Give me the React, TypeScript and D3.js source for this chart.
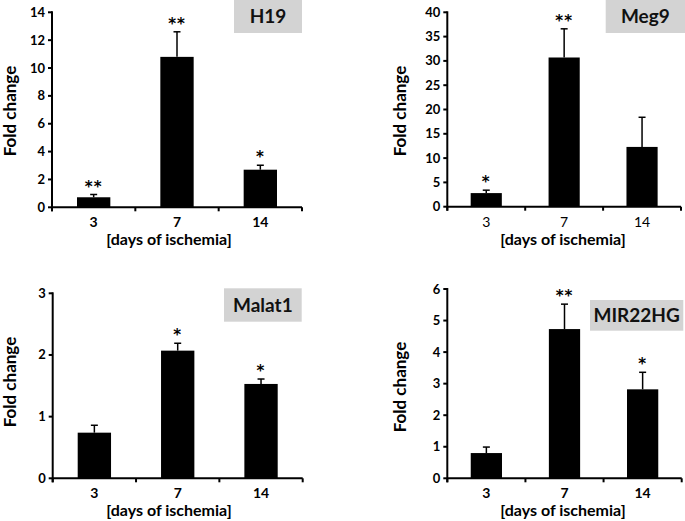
import React from "react";
import * as d3 from "d3";

// ---------- data ----------
const categories = ["3", "7", "14"];
const panelNames = ["H19", "Meg9", "Malat1", "MIR22HG"];
const yMaxes = [14, 40, 3, 6];
const yTickSteps = [2, 5, 1, 1];
const h19Values = [0.72, 10.8, 2.7];
const h19Errors = [0.2, 1.8, 0.32];
const h19Stars = ["**", "**", "*"];
const meg9Values = [2.8, 30.7, 12.3];
const meg9Errors = [0.6, 5.9, 6.1];
const meg9Stars = ["*", "**", ""];
const malat1Values = [0.74, 2.07, 1.53];
const malat1Errors = [0.12, 0.12, 0.08];
const malat1Stars = ["", "*", "*"];
const mir22hgValues = [0.8, 4.73, 2.82];
const mir22hgErrors = [0.19, 0.79, 0.54];
const mir22hgStars = ["", "**", "*"];
const yTitle = "Fold change";
const xTitle = "[days of ischemia]";

const valuesList = [h19Values, meg9Values, malat1Values, mir22hgValues];
const errorsList = [h19Errors, meg9Errors, malat1Errors, mir22hgErrors];
const starsList = [h19Stars, meg9Stars, malat1Stars, mir22hgStars];

// ---------- layout ----------
const layouts = [
  { x0: 52, x1: 302, yBottom: 207.3, yTop: 12.3, yTitleX: 10, yTitleY: 111, xTitleX: 169, box: [234, 0, 68, 33], xBold: true },
  { x0: 447.3, x1: 681, yBottom: 206.7, yTop: 12.3, yTitleX: 400, yTitleY: 111, xTitleX: 563, box: [605.7, 0, 79.3, 33], xBold: false },
  { x0: 52.7, x1: 302.7, yBottom: 478.3, yTop: 293.3, yTitleX: 10, yTitleY: 382, xTitleX: 169, box: [224, 288.3, 77.7, 33.4], xBold: true },
  { x0: 447.3, x1: 681.7, yBottom: 478.3, yTop: 289, yTitleX: 400, yTitleY: 387, xTitleX: 563, box: [590, 300, 93.3, 30.7], xBold: true },
];

const FONT = "Lato, 'Open Sans', sans-serif";
const STAR_FONT = "'DejaVu Sans', sans-serif";

function Panel({ i }: { i: number }) {
  const L = layouts[i];
  const vals = valuesList[i];
  const errs = errorsList[i];
  const stars = starsList[i];
  const x = d3.scaleBand<string>().domain(categories).range([L.x0, L.x1]).paddingInner(0.6).paddingOuter(0.3);
  const y = d3.scaleLinear().domain([0, yMaxes[i]]).range([L.yBottom, L.yTop]);
  const ticks = d3.range(0, yMaxes[i] + 1e-9, yTickSteps[i]);
  const step = (L.x1 - L.x0) / categories.length;
  const xTickPos = d3.range(0, categories.length + 1).map((k) => L.x0 + k * step);
  const bw = x.bandwidth();
  return (
    <g>
      {/* label box */}
      <rect x={L.box[0]} y={L.box[1]} width={L.box[2]} height={L.box[3]} fill="#d3d3d3" />
      <text
        x={L.box[0] + L.box[2] / 2}
        y={L.box[1] + L.box[3] / 2 + 6.5}
        textAnchor="middle"
        fontFamily={FONT}
        fontWeight={700}
        fontSize={19}
        fill="#111"
      >
        {panelNames[i]}
      </text>
      {/* bars */}
      {categories.map((c, k) => {
        const cx = (x(c) as number) + bw / 2;
        const top = y(vals[k] + errs[k]);
        return (
          <g key={c}>
            <rect x={x(c)} y={y(vals[k])} width={bw} height={y(0) - y(vals[k])} fill="#000" />
            <line x1={cx} x2={cx} y1={y(vals[k])} y2={top} stroke="#000" strokeWidth={1.5} />
            <line x1={cx - 3.5} x2={cx + 3.5} y1={top} y2={top} stroke="#000" strokeWidth={1.5} />
            {stars[k] && (
              <text
                x={cx}
                y={top - 2.8}
                textAnchor="middle"
                fontFamily={STAR_FONT}
                fontWeight={700}
                fontSize={15}
                fill="#000"
                letterSpacing={1}
              >
                {stars[k]}
              </text>
            )}
          </g>
        );
      })}
      {/* y axis */}
      <line x1={L.x0} x2={L.x0} y1={L.yTop - 1} y2={L.yBottom + 4} stroke="#000" strokeWidth={2} />
      {ticks.map((t) => (
        <g key={t}>
          <line x1={L.x0 - 4} x2={L.x0} y1={y(t)} y2={y(t)} stroke="#000" strokeWidth={2} />
          <text
            x={L.x0 - 7}
            y={y(t) + 4.5}
            textAnchor="end"
            fontFamily={FONT}
            fontWeight={700}
            fontSize={13}
            fill="#000"
          >
            {t}
          </text>
        </g>
      ))}
      {/* x axis */}
      <line x1={L.x0} x2={L.x1} y1={L.yBottom} y2={L.yBottom} stroke="#000" strokeWidth={2} />
      {xTickPos.map((p, k) => (
        <line key={k} x1={p} x2={p} y1={L.yBottom} y2={L.yBottom + 4} stroke="#000" strokeWidth={2} />
      ))}
      {categories.map((c) => (
        <text
          key={c}
          x={(x(c) as number) + bw / 2}
          y={L.yBottom + 20}
          textAnchor="middle"
          fontFamily={FONT}
          fontWeight={L.xBold ? 700 : 400}
          fontSize={14}
          fill="#000"
        >
          {c}
        </text>
      ))}
      <text
        x={L.xTitleX}
        y={L.yBottom + 38}
        textAnchor="middle"
        fontFamily={FONT}
        fontWeight={700}
        fontSize={16}
        fill="#000"
      >
        {xTitle}
      </text>
      <text
        transform={`translate(${L.yTitleX + 6},${L.yTitleY}) rotate(-90)`}
        textAnchor="middle"
        fontFamily={FONT}
        fontWeight={700}
        fontSize={17}
        fill="#000"
      >
        {yTitle}
      </text>
    </g>
  );
}

export default function App() {
  return (
    <svg
      width={685}
      height={521}
      viewBox="0 0 685 521"
      style={{ position: "absolute", left: 0, top: 0, background: "#fff" }}
    >
      <rect width={685} height={521} fill="#fff" />
      {panelNames.map((_, i) => (
        <Panel key={i} i={i} />
      ))}
    </svg>
  );
}
